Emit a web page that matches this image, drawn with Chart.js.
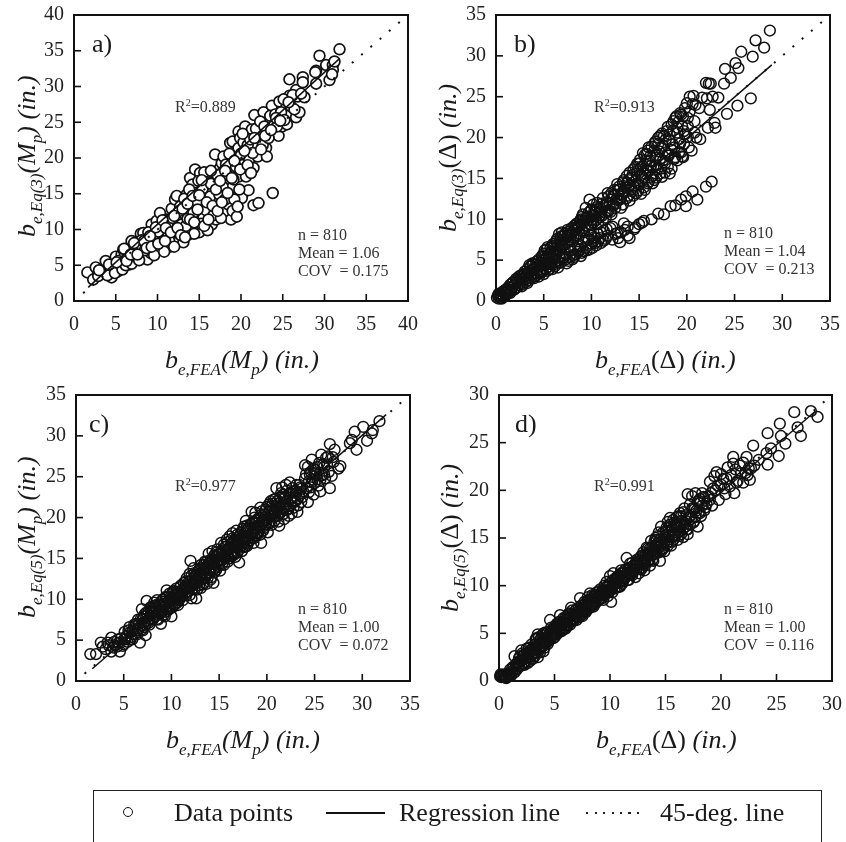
<!DOCTYPE html>
<html>
<head>
<meta charset="utf-8">
<script src="https://cdn.jsdelivr.net/npm/chart.js@4"></script>
<style>
html, body { margin: 0; padding: 0; background: #fff; overflow: hidden; }
#page { position: relative; width: 846px; height: 842px; overflow: hidden; font-family: "Liberation Serif", serif; color: #1a1a1a; filter: blur(0.4px); }
canvas { position: absolute; }
.txt { position: absolute; white-space: nowrap; line-height: 1; }
.sub { font-size: 17px; position: relative; top: 7px; font-style: italic; }
.note { font-size: 16px; color: #333; line-height: 18px; }
sup { font-size: 10px; line-height: 0; }
</style>
</head>
<body>
<div id="page">
  <canvas id="chart-a" width="423" height="380" style="left:0;top:0"></canvas>
  <canvas id="chart-b" width="423" height="380" style="left:423px;top:0"></canvas>
  <canvas id="chart-c" width="423" height="380" style="left:0;top:380px"></canvas>
  <canvas id="chart-d" width="423" height="380" style="left:423px;top:380px"></canvas>
</div>
<script>
// points, [FEA, Eq]
var pointsA = [[1.6,4],[2.6,4.7],[2.3,3],[3.8,5.6],[3.3,3.8],[3.6,4.2],[4.5,3.3],[4.4,4.6],[4.8,4.8],[5,6.2],[5.2,4.1],[5.5,5],[5.7,6.5],[5.9,7.2],[6.1,6.3],[6.4,6.6],[6.6,5.1],[6.7,7.6],[6.9,8.4],[7.1,5.8],[7.3,7],[7.5,8.3],[7.7,7.4],[8,9.4],[8.2,7.6],[8.3,9.5],[8.6,6.2],[8.8,5.8],[9,8.2],[9.2,6.7],[9.3,10.7],[9.5,9.5],[9.7,7.5],[9.9,11.2],[10,8.6],[10.2,7.2],[10.3,12.3],[10.5,10.4],[10.7,7.8],[10.9,9.2],[11.1,11.4],[11.3,9.1],[11.5,7.6],[11.7,12.9],[11.9,10.3],[12.1,14.2],[12.3,14.7],[12.3,8.5],[12.5,11.5],[12.7,13.2],[12.9,10.7],[13.1,8.2],[13.3,12.1],[13.5,14.9],[13.7,9.3],[13.9,17.2],[14,10.2],[14.1,13.5],[14.2,16.3],[14.5,18.4],[14.6,15.1],[14.8,11.2],[15,9.6],[15.1,17.9],[15.3,13],[15.5,11.6],[15.7,14.4],[15.9,16.7],[16.1,17.9],[16.2,12.4],[16.5,10.7],[16.6,15.2],[16.9,14.2],[16.9,20.5],[17,11.4],[17.3,16.3],[17.5,18.6],[17.7,19.3],[17.9,20.2],[18,12.4],[18.3,16.7],[18.3,12.6],[18.5,13.5],[18.7,18.4],[18.7,22.1],[18.8,11.4],[18.9,15.8],[19,22.3],[19,12.6],[19.3,20.8],[19.5,11.8],[19.5,20.2],[19.7,17.4],[19.7,23.7],[19.7,21.4],[19.9,22.8],[20.1,14.4],[20.2,19],[20.5,24.4],[20.5,18.4],[20.9,15.5],[21,19.8],[21.3,24],[21.5,18.6],[21.5,13.4],[21.6,26],[21.7,21.6],[22,20.2],[22.1,13.7],[22.2,23],[22.5,23.3],[22.7,26.4],[23,21.4],[23.1,24.9],[23.1,20.2],[23.7,27.3],[23.8,15.1],[23.9,24.5],[24.5,23.1],[24.6,27.9],[24.9,24.4],[25.4,27],[25.5,24.7],[25.5,26.2],[25.8,31],[25.8,28.7],[26.6,29.5],[26.6,25.7],[26.8,28.6],[27,26.4],[27.4,31.3],[27.4,30.6],[27.6,28.5],[29,32.2],[29,30.4],[29.4,34.3],[30.2,33],[30.6,30.9],[31,33],[31,32.3],[31.8,35.2]];
var extraA = [[2.9,3.5],[4,3.6],[4.9,3.9],[5.3,5.6],[5.8,4.4],[6.2,5],[6.5,7.2],[6.9,5.2],[7.4,6.2],[7.8,5.7],[8.1,8.5],[8.5,7.1],[8.9,9.6],[9.4,8.1],[9.6,6.4],[10.1,9.7],[10.4,8.2],[10.8,6.9],[11.2,10.6],[11.4,8.4],[11.8,11.6],[12,7.6],[12.2,9.6],[12.6,12.6],[13,9.4],[13.2,14.3],[13.4,10.5],[13.6,11.5],[13.8,15.6],[14.3,12.3],[14.4,9.4],[14.7,13.9],[14.9,16.8],[15.2,10.8],[15.4,15.7],[15.6,18],[15.8,12.7],[16,9.9],[16.3,14.6],[16.4,16.4],[16.7,12],[17.1,13.2],[17.2,17.6],[17.4,14.9],[17.6,11.6],[17.8,16],[18.1,14.2],[18.2,19.1],[18.4,17.6],[18.6,20.6],[19.1,17],[19.2,14.2],[19.4,18.8],[19.8,15.6],[20,20.6],[20.3,22.2],[20.6,17.4],[20.8,21.8],[21.1,22.6],[21.4,20.7],[21.8,24.1],[22.3,25.1],[22.6,21.8],[22.8,24.4],[23.3,22.8],[23.5,25.9],[24.1,26.1],[24.3,24.4],[24.8,26.4],[25.1,28.2],[25.2,25.3],[26,27.2],[26.2,28.8],[26.4,26.8],[28.9,32],[30.9,31.7]];
var moreA = [[3,4.3],[4.2,5.1],[5.1,5.4],[6,7.3],[6.3,5.6],[6.8,6.5],[7.2,8.1],[7.6,6.5],[8.4,8.4],[8.7,7.4],[9.1,9.1],[9.3,7.6],[9.8,10.3],[10.1,8],[10.6,11.3],[10.9,8.4],[11,10.2],[11.6,9.6],[12,11.9],[12.4,10.2],[12.8,9.2],[13,12.9],[13.3,8.9],[13.6,13.6],[13.9,11.4],[14.2,14.7],[14.4,11],[14.8,12.8],[15,14.8],[15.3,16.9],[15.6,10.5],[15.9,13.8],[16.1,11.4],[16.4,18.2],[16.6,13.3],[17,15.6],[17.2,12.6],[17.5,16.8],[17.7,13.8],[18.1,18.2],[18.4,15.1],[18.9,17.2],[19.2,19.6],[19.6,13.2],[19.9,18.4],[20.2,23.4],[20.4,21],[20.8,19],[21.2,17.9],[21.6,22.8],[22.4,21.2],[22.9,23.1],[23.6,23.9],[24.2,25.6],[24.7,25.2],[25.7,27.8],[27.2,29],[31.2,33.5]];
var pointsB = [[0.1,0.4],[0.2,0.7],[0.3,0.3],[0.4,0.6],[0.5,0.9],[0.5,0.4],[0.6,0.7],[0.7,1.1],[0.8,0.5],[0.9,1],[1,1.4],[1,0.7],[1.1,1.2],[1.2,0.9],[1.3,1.7],[1.4,1.1],[1.5,2],[1.6,1.3],[1.7,1.7],[1.8,2.3],[1.9,1.4],[2,2.1],[2.1,2.7],[2.2,1.7],[2.3,2.4],[2.4,3],[2.5,1.9],[2.6,2.6],[2.7,3.2],[2.8,2.1],[2.9,2.9],[3,3.6],[3.1,2.3],[3.2,3.2],[3.3,3.9],[3.4,2.5],[3.5,3.5],[3.6,4.2],[3.7,2.8],[3.8,3.8],[3.9,4.5],[4,3],[4.1,4.1],[4.2,4.8],[4.3,3.2],[4.4,4.3],[4.5,5.1],[4.6,3.4],[4.7,4.7],[4.8,5.5],[4.9,3.6],[5,5],[5.1,6.2],[5.2,3.9],[5.3,5.4],[5.4,6.6],[5.5,4.2],[5.6,5.7],[5.7,6.5],[5.8,4.5],[5.9,6],[6,7],[6.1,4.5],[6.2,6.4],[6.3,7.3],[6.4,5],[6.5,6.8],[6.6,8.2],[6.7,5.3],[6.8,7.1],[6.9,8.4],[7,5.2],[7.1,7.5],[7.2,8],[7.3,5.7],[7.4,7.8],[7.5,8.7],[7.6,4.9],[7.7,8.1],[7.8,6.2],[7.9,8.9],[8,8.4],[8.1,5.6],[8.2,9.2],[8.3,6.5],[8.4,8.8],[8.5,9.5],[8.6,6],[8.7,9.1],[8.8,6.8],[8.9,10],[9,9.5],[9,5.9],[9.1,10.6],[9.2,7.2],[9.3,9.8],[9.4,11.4],[9.5,6.2],[9.6,10.3],[9.7,7.5],[9.8,12.4],[9.9,11],[10,7],[10.1,10],[10.2,11.8],[10.3,7.8],[10.4,10.8],[10.5,6.8],[10.6,11.5],[10.7,8.2],[10.9,10.5],[11,7.1],[11.1,11.9],[11.3,8.6],[11.5,7.6],[11.6,12.1],[11.7,13.2],[11.8,11],[12,8.9],[12.1,12.4],[12.2,7.5],[12.4,12.9],[12.5,11.4],[12.7,8.3],[12.8,13.6],[13,7.2],[13.1,12.5],[13.3,14.5],[13.4,9.5],[13.5,13.3],[13.7,12.6],[13.8,8],[13.9,14.8],[14,7.7],[14.2,13.7],[14.3,15.4],[14.5,14],[14.6,9],[14.8,15.9],[14.9,13.5],[15,9.4],[15.2,16.4],[15.3,14.8],[15.4,18.1],[15.5,9.8],[15.6,15.6],[15.7,17.2],[15.9,14.4],[16,18.8],[16.2,16.5],[16.3,10],[16.4,15.3],[16.6,19.3],[16.7,17.5],[16.8,15.1],[17,10.7],[17.1,18.3],[17.2,20.2],[17.3,16.2],[17.5,19],[17.6,10.6],[17.7,16.8],[17.9,20.8],[18,18],[18.2,15.6],[18.3,11.6],[18.4,21.6],[18.5,19.2],[18.7,17.4],[18.8,11.7],[18.9,22.6],[19,20.6],[19.2,18.2],[19.3,23],[19.4,12.4],[19.5,21.4],[19.6,17.6],[19.7,19.2],[19.9,11.6],[19.9,12.8],[20,24.2],[20.1,22.4],[20.2,18.8],[20.3,25],[20.6,13.4],[20.7,25.1],[20.8,22],[20.9,24],[21,20],[21.1,12.4],[21.3,23.6],[21.4,19.8],[21.6,24.9],[22,26.7],[22,14],[22.1,24.8],[22.2,21.2],[22.3,26.6],[22.4,23.4],[22.5,26.6],[22.6,14.6],[22.7,25],[22.9,21.8],[23,21.2],[23.3,24.9],[23.9,26.6],[24,28.4],[24.2,22.9],[24.6,27.3],[25.1,29.1],[25.3,23.9],[25.4,28.5],[25.7,30.5],[26.7,24.8],[26.9,29.9],[27.2,31.9],[28.1,31],[28.7,33.1]];
var extraB = [[0.3,0.9],[0.6,0.3],[0.8,1.2],[1.1,0.8],[1.2,1.5],[1.5,1],[1.7,2.2],[2,1.5],[2.2,2.6],[2.5,2.2],[2.7,1.8],[2.9,3.3],[3.1,2.8],[3.3,2.2],[3.4,3.4],[3.6,3.1],[3.8,4.6],[4,2.8],[4,3.9],[4.2,3.4],[4.4,4.9],[4.5,3],[4.6,4.2],[4.8,3.9],[4.9,5.4],[5,3.3],[5.1,4.4],[5.2,4.7],[5.3,6.3],[5.4,3.7],[5.5,5],[5.6,4.6],[5.7,6],[5.8,5.2],[5.9,3.9],[6,5.6],[6.1,6.7],[6.2,4.3],[6.3,5.9],[6.4,7.6],[6.5,4.1],[6.6,6.3],[6.7,7.4],[6.8,4.7],[6.9,6.6],[7,7.9],[7.1,5.3],[7.2,6.9],[7.3,8.3],[7.4,4.6],[7.5,7.2],[7.6,8.5],[7.7,5.4],[7.8,7.5],[7.9,8.1],[8,5.1],[8.1,7.8],[8.2,8.6],[8.3,5.7],[8.4,8],[8.5,9.1],[8.6,6.7],[8.7,8.3],[8.8,9.8],[8.9,5.5],[9,8.6],[9.1,9.9],[9.2,6.1],[9.3,8.9],[9.4,10.1],[9.5,7.8],[9.6,9.2],[9.7,10.8],[9.8,6.3],[9.9,9.4],[10,11.2],[10,8],[10.1,6.5],[10.2,9.6],[10.3,11],[10.4,7.1],[10.5,9.9],[10.6,12],[10.7,7.3],[10.8,10.2],[10.9,11.4],[11,8.4],[11.1,10.4],[11.2,12.6],[11.3,7.4],[11.4,10.8],[11.5,11.8],[11.6,8.8],[11.7,11.1],[11.8,12.8],[12,10.9],[12.1,13.2],[12.2,9.1],[12.3,11.7],[12.4,13.6],[12.6,12],[12.7,14.3],[12.8,7.7],[12.9,12.4],[13,13.7],[13.1,8.4],[13.2,13],[13.3,11.8],[13.4,14.8],[13.6,13.9],[13.7,15.3],[13.8,9.1],[13.9,12.9],[14,15.7],[14.1,14.2],[14.3,13.4],[14.4,16.1],[14.5,8.8],[14.6,14.7],[14.7,13.2],[14.8,16.8],[15,14.2],[15.1,17.3],[15.2,15.4],[15.3,9.6],[15.4,16.5],[15.5,13.9],[15.6,17.9],[15.8,16],[15.9,18.4],[16,14.6],[16.1,17.1],[16.2,15.1],[16.3,18.9],[16.5,16.4],[16.6,14.8],[16.7,19.5],[16.8,17.8],[16.9,16.1],[17,20],[17.2,15.6],[17.3,18.7],[17.4,20.5],[17.5,17.2],[17.7,15.7],[17.8,19.8],[18,21.3],[18.1,17.8],[18.2,19.6],[18.4,16.2],[18.6,20.9],[18.7,18.8],[18.8,22.4],[19,17.2],[19.1,21.9],[19.3,19.3],[19.4,22.8],[19.5,17.7],[19.7,20.8],[19.8,23.6],[20.1,20.1],[20.3,23.2],[20.5,18.4],[20.6,24.1],[20.8,20.6]];
var moreB = [[2.6,3.1],[3,2.6],[3.5,4.4],[3.9,3.3],[4.3,4.5],[4.7,3.6],[5,5.8],[5.3,4.5],[5.6,3.9],[5.9,6.8],[6.1,5.1],[6.4,6.1],[6.6,4.7],[6.8,7.9],[7,6.7],[7.3,5.1],[7.5,8.1],[7.7,6.6],[8,7.3],[8.2,5.4],[8.4,9.4],[8.6,7.6],[8.8,6.3],[9,10.3],[9.2,8.4],[9.4,6.5],[9.6,9.9],[9.8,8.6],[10,9.3],[10.2,7.3],[10.3,10.4],[10.5,11.2],[10.7,9.4],[10.9,7.7],[11,11],[11.2,9.9],[11.3,11.6],[11.5,10.2],[11.7,8],[11.9,11.9],[12.1,10.6],[12.3,13],[12.5,8.2],[12.7,12.5],[12.9,14],[13.1,11.4],[13.3,13.4],[13.5,8.7],[13.7,14.4],[14,12.3],[14.2,15.1],[14.4,12.9],[14.6,16.4],[14.8,14.4],[15,16.8],[15.2,13.1],[15.4,15.1],[15.6,13.6],[15.8,18],[16,16],[16.2,17.8],[16.4,14.4],[16.6,18.4],[16.8,16.6],[17,19.2],[17.2,17.4],[17.4,15.2],[17.6,20.2],[17.8,18.2],[18,16.4],[18.2,20.4],[18.4,18.5],[18.6,22],[18.8,17.6],[19,21.2],[19.2,19.8],[19.4,18.2],[19.6,22.6],[19.8,20.4],[20.1,21.4]];
var pointsC = [[1.5,3.3],[2.1,3.3],[2.6,4.7],[2.8,4.2],[3.1,3.9],[3.4,4.4],[3.7,5.3],[3.7,3.6],[4,4.8],[4.3,4.2],[4.6,3.6],[4.7,5.2],[5,4.5],[5.1,6],[5.3,5.5],[5.4,4.8],[5.6,6.6],[5.8,5.4],[6,6.3],[6.1,5.7],[6.3,7],[6.4,6.2],[6.5,7.5],[6.7,4.7],[6.8,6.8],[6.9,8.8],[7,7.6],[7.1,6.6],[7.2,8.2],[7.3,5.6],[7.4,9.8],[7.5,7.4],[7.6,8.5],[7.7,6.9],[7.8,8],[7.9,9],[8,7.5],[8.1,8.7],[8.2,9.6],[8.3,7.9],[8.4,8.9],[8.5,9.9],[8.6,7.5],[8.7,8.4],[8.8,9.3],[8.9,7],[9,8.7],[9.1,10],[9.2,8.1],[9.3,9.2],[9.4,10.3],[9.5,11.1],[9.6,8.6],[9.7,9.7],[9.8,10.7],[9.9,8.9],[10,7.9],[10.1,10.1],[10.2,11],[10.3,9.3],[10.4,10.5],[10.5,11.3],[10.6,9.6],[10.7,10.8],[10.8,9.9],[10.9,11.5],[11,10.3],[11.1,11.1],[11.2,9.9],[11.3,12],[11.4,10.7],[11.5,11.5],[11.6,12.6],[11.7,10.9],[11.8,12.1],[11.9,13.1],[12,14.7],[12.1,10.1],[12.1,11.6],[12.2,12.5],[12.3,13.8],[12.4,11.2],[12.5,12.9],[12.6,10.1],[12.7,12.1],[12.8,13.4],[12.9,11.7],[13,13],[13.1,14.2],[13.2,12.4],[13.3,13.6],[13.4,12],[13.5,14.6],[13.6,13.1],[13.7,11.9],[13.8,14.1],[13.9,15.6],[14,13.3],[14.1,14.8],[14.2,12.7],[14.3,15.9],[14.4,12],[14.5,14.3],[14.6,15.2],[14.7,13.6],[14.8,16.1],[14.9,14.6],[15,15.4],[15.1,13.5],[15.2,16.9],[15.3,14.8],[15.4,15.9],[15.5,14.2],[15.6,16.4],[15.7,15.1],[15.8,17.3],[15.9,14.6],[16,16.1],[16.1,17.7],[16.2,15.4],[16.3,16.7],[16.4,18.1],[16.5,15.8],[16.6,17.2],[16.7,15.2],[16.8,18.4],[16.9,16.3],[17,17.6],[17.1,14.5],[17.2,16.8],[17.3,18.2],[17.4,15.9],[17.5,17.3],[17.6,18.9],[17.7,16.4],[17.8,19.6],[17.9,17.7],[18,16.8],[18.1,18.8],[18.2,17.2],[18.4,20.7],[18.5,18.2],[18.6,16.9],[18.7,19.3],[18.8,20.6],[18.9,17.8],[19,19],[19.1,18.1],[19.2,20],[19.3,21.2],[19.4,16.9],[19.5,19.5],[19.6,18.4],[19.7,20.4],[19.8,19],[19.9,21],[20,19.7],[20.1,18.2],[20.2,21.6],[20.3,20.1],[20.4,22],[20.5,19.1],[20.6,20.9],[20.7,22.2],[20.8,19.6],[20.9,21.3],[21,23.6],[21.1,20.2],[21.2,21.7],[21.3,19],[21.4,22.5],[21.5,20.7],[21.6,23.7],[21.7,21.2],[21.8,19.8],[21.9,22.4],[22,24],[22.1,20.9],[22.3,22.9],[22.4,24.3],[22.5,21.5],[22.6,20.5],[22.8,23.2],[23,22],[23.1,24],[23.2,20.7],[23.4,22.9],[23.6,23.5],[24,26.4],[24,24.8],[24.3,26.2],[24.3,21.9],[24.5,25.3],[24.6,23.7],[24.7,27.1],[24.8,24.6],[24.9,22.8],[25.1,25.8],[25.3,24.7],[25.5,26.7],[25.6,23.2],[25.7,27.7],[25.8,25.2],[26,26.2],[26.2,27.3],[26.5,25.6],[26.6,29],[26.6,23.6],[26.8,25.1],[27.1,28.3],[27,26.8],[27.5,26],[27.7,26.3],[28.7,29.1],[28.9,29.5],[29.2,30.5],[29.4,28.3],[30.1,31.1],[30.5,29.4],[31,30.3],[31.1,30.7],[31.8,31.8]];
var extraC = [[3.3,4.7],[3.9,4.1],[4.4,5.1],[4.9,4.3],[5.2,5.1],[5.5,6.2],[5.7,5.1],[5.9,6.1],[6.2,6.7],[6.6,6.4],[6.8,7.6],[7,6.2],[7.2,7.2],[7.4,8.4],[7.6,7.1],[7.8,9],[8,8.4],[8.1,7.6],[8.3,9.2],[8.5,8.1],[8.6,9.4],[8.8,8.2],[9,9.7],[9.2,9.4],[9.4,8.5],[9.5,9.6],[9.7,8.8],[9.9,10.3],[10,9.5],[10.1,10.8],[10.3,10.2],[10.4,9.4],[10.6,10.9],[10.8,10.6],[10.9,10.1],[11,11.7],[11.2,11],[11.4,11.5],[11.5,10.5],[11.7,11.7],[11.8,11],[12,12.2],[12.2,11.3],[12.3,12.1],[12.4,13.2],[12.6,12.4],[12.7,11.2],[12.9,12.6],[13,13.8],[13.1,11.4],[13.2,13.1],[13.4,14.2],[13.5,12.7],[13.6,14],[13.7,13],[13.8,12.6],[14,14.5],[14.1,13.5],[14.2,14.9],[14.4,13.7],[14.5,15.4],[14.6,13.8],[14.7,14.6],[14.9,15.5],[15,14.3],[15.1,15.7],[15.3,14.3],[15.4,15.2],[15.5,16.7],[15.6,15.2],[15.8,15.9],[15.9,17],[16,15],[16.1,16.4],[16.3,15.3],[16.4,17],[16.5,16.4],[16.6,15.6],[16.8,17.1],[16.9,15.7],[17,16.6],[17.2,17.9],[17.3,16.5],[17.4,17.5],[17.5,18.6],[17.6,16.9],[17.8,17.6],[17.9,16.5],[18,18.6],[18.1,17.5],[18.3,19.2],[18.4,17.9],[18.5,19.4],[18.7,17.5],[18.8,18.7],[18.9,19.7],[19,18.2],[19.2,19],[19.3,17.9],[19.4,20.3],[19.6,19.5],[19.7,18.7],[19.9,20.1],[20,21.3],[20.2,19.4],[20.3,20.8],[20.5,20.3],[20.6,21.7],[20.8,20.6],[20.9,22.3],[21.1,21.1],[21.2,19.5],[21.4,21.4],[21.5,23],[21.7,20.4],[21.8,22.5],[22,21.6],[22.1,23.3],[22.3,21.1],[22.5,23],[22.6,22],[22.8,21.2],[23,23.3],[23.2,22.3],[23.4,24],[23.6,21.9],[23.8,23.2],[24.2,23.6],[24.4,24.4],[24.6,25.6],[24.9,26],[25,24.2],[25.2,25.2],[25.4,23.9],[25.9,26.5],[26.1,24.8],[26.4,27.5],[26.9,27.4]];
var moreC = [[4.1,4.4],[4.5,4.7],[5.1,5.2],[5.6,5.9],[5.9,5.1],[6.1,6.9],[6.4,5.7],[6.6,7],[6.9,6.3],[7.1,7.9],[7.3,6.9],[7.5,8.1],[7.7,7.6],[7.9,8.4],[8.1,9.2],[8.3,8.5],[8.5,7.6],[8.7,9.2],[8.9,8.7],[9.1,9],[9.3,7.9],[9.5,10.2],[9.7,9.2],[9.9,9.8],[10.1,9],[10.3,11],[10.5,10],[10.7,9.3],[10.9,10.8],[11.1,10.5],[11.3,11.3],[11.5,12.2],[11.7,11.4],[11.9,10.5],[12.1,12.9],[12.3,11.8],[12.5,12.3],[12.7,13],[12.9,13.6],[13.1,12.8],[13.3,11.8],[13.5,13.7],[13.7,14.6],[13.9,13.3],[14.1,12.4],[14.3,14.6],[14.5,13.3],[14.7,15.7],[14.9,14.1],[15.1,14.9],[15.3,15.7],[15.5,15.4],[15.7,16.4],[15.9,15.5],[16.1,15],[16.3,17.4],[16.5,15.4],[16.7,16.6],[16.9,17.9],[17.1,16.1],[17.3,17.4],[17.5,16.4],[17.7,18.1],[17.9,19],[18.1,17.1],[18.3,18],[18.5,17.5],[18.7,20],[18.9,18.6],[19.1,19.6],[19.3,18.8],[19.5,20.8],[19.7,19.6],[19.9,19.2],[20.1,20.4],[20.3,19.3],[20.5,21.4],[20.7,20.3],[20.9,20.7],[21.1,22],[21.3,20.5],[21.5,21.9],[21.7,22.8],[21.9,21.2],[22.1,22],[22.3,20.2],[22.5,22.4],[22.7,23.6],[22.9,22.1],[23.1,23],[23.3,21.5],[23.5,23.7],[23.7,22.5],[24.1,25.3],[24.4,23.1],[24.7,24.3],[25,25.4],[25.3,26.2],[25.6,24.6],[26,25.3],[26.3,26.5]];
var pointsD = [[0.1,0.5],[0.15,0.7],[0.2,0.4],[0.3,0.6],[0.4,0.5],[0.5,0.4],[0.6,0.5],[0.7,0.4],[0.8,0.6],[0.9,0.5],[1,0.7],[1,1.2],[1.1,0.6],[1.2,1],[1.3,1.5],[1.4,2.6],[1.4,0.9],[1.5,1.7],[1.6,1.2],[1.7,2],[1.8,1.5],[1.9,2.6],[2,1.6],[2,3.2],[2.1,2.2],[2.2,1.8],[2.3,2.8],[2.4,2],[2.5,3.4],[2.6,2.4],[2.7,3],[2.8,2.1],[2.9,3.8],[3,2.8],[3.1,3.3],[3.2,2.6],[3.3,4.4],[3.4,3.6],[3.5,2.5],[3.5,4.9],[3.6,3.9],[3.7,3],[3.8,4.5],[3.9,3.6],[4,3.1],[4,5],[4.1,4.2],[4.2,4],[4.3,5],[4.4,4.4],[4.5,4.8],[4.6,6.4],[4.7,4.5],[4.8,5.4],[4.9,4.9],[5,5.7],[5.1,5],[5.2,6],[5.3,5.3],[5.4,5.7],[5.5,6.9],[5.6,5.6],[5.7,6.2],[5.8,5.4],[5.9,6.5],[6,5.9],[6.1,6.4],[6.2,5.8],[6.3,7.1],[6.4,6.2],[6.5,7.7],[6.6,6.4],[6.7,7],[6.8,6.4],[6.9,7.4],[7,6.8],[7.1,7.2],[7.2,6.7],[7.3,8.7],[7.4,7.3],[7.5,6.8],[7.6,7.9],[7.7,7.3],[7.8,8.2],[7.9,7.4],[8,8.8],[8.1,7.9],[8.2,9.2],[8.3,8],[8.4,8.6],[8.5,7.8],[8.6,9],[8.7,8.2],[8.8,9.3],[8.9,8.4],[9,8.9],[9.1,9.6],[9.2,8.7],[9.3,9.2],[9.4,8.5],[9.5,10],[9.6,9.2],[9.7,10.4],[9.8,9.3],[9.9,9.9],[10,11],[10.1,8.3],[10.2,9.8],[10.3,11.3],[10.4,10.1],[10.5,10.6],[10.6,9.8],[10.7,11],[10.8,10.3],[10.9,9.9],[11,10.8],[11.1,10.2],[11.2,11.4],[11.3,10.8],[11.4,11.7],[11.5,12.9],[11.6,11.1],[11.7,10.6],[11.8,11.9],[11.9,11.2],[12,12.4],[12.1,11.5],[12.2,12],[12.3,10.9],[12.4,12.7],[12.5,12],[12.6,11.3],[12.7,12.4],[12.8,13.1],[12.9,11.9],[13,12.6],[13.1,11.6],[13.2,13.3],[13.3,14],[13.4,12.6],[13.5,13.5],[13.6,12.1],[13.7,14.7],[13.8,13.2],[13.9,12.6],[14,13.8],[14.1,15],[14.2,13.4],[14.3,14.4],[14.4,15.6],[14.5,12.6],[14.6,16.2],[14.7,13.9],[14.8,14.9],[14.9,13.6],[15,15.7],[15.1,14.4],[15.2,16.7],[15.3,15.2],[15.4,17.1],[15.5,14.2],[15.6,15.9],[15.7,14.8],[15.8,16.6],[15.9,15.3],[16,17.2],[16.1,14.8],[16.2,16.1],[16.3,17.6],[16.4,15.4],[16.5,16.8],[16.6,15.1],[16.7,18.1],[16.8,16.2],[16.9,17.4],[17,19.6],[17,15.9],[17.2,18.5],[17.3,17],[17.4,19.4],[17.5,16.6],[17.6,18],[17.7,19.7],[17.9,16.2],[18,17.7],[18.1,19.1],[18.3,19.7],[18.5,17.9],[18.7,18.6],[19,20.9],[19,19],[19.2,18.4],[19.4,21.5],[19.5,20],[19.6,21.9],[19.8,19],[20,20.6],[20.2,21.2],[20.4,19.6],[20.6,22.4],[20.8,20.4],[21.1,23.5],[21.2,19.7],[21.3,22.2],[21.5,21],[21.8,21.8],[22,20.8],[22.3,23.5],[22.4,21.6],[22.6,21.1],[22.7,22.3],[22.9,24.7],[23,22.6],[23.4,23.2],[24.1,23.9],[24.2,26],[24.2,22.7],[24.5,24.4],[25.2,23.6],[25.3,27],[25.4,25.7],[25.8,24.9],[26.6,28.2],[26.9,26.6],[27.2,25.7],[28.1,28.3],[28.7,27.7]];
var extraD = [[0.25,0.5],[0.45,0.7],[0.65,0.3],[0.85,0.8],[1.2,1.4],[1.5,1.2],[1.7,1.5],[1.8,2.4],[2,2.2],[2.2,2.7],[2.3,1.7],[2.5,2.8],[2.6,1.9],[2.7,3.5],[2.9,2.6],[3,3.4],[3.1,2.4],[3.2,3.8],[3.3,3],[3.4,4.5],[3.6,3.2],[3.7,4.3],[3.8,3.7],[3.9,4.8],[4.1,3.5],[4.2,4.5],[4.3,4.1],[4.4,5.1],[4.5,4.2],[4.6,5.1],[4.7,5.6],[4.9,4.5],[5,5.2],[5.1,5.7],[5.2,4.9],[5.3,5.9],[5.4,5.2],[5.5,6.1],[5.6,5.9],[5.8,6],[5.9,5.6],[6,6.7],[6.1,5.8],[6.2,6.5],[6.3,6.2],[6.4,7],[6.6,6.9],[6.7,6.3],[6.9,6.8],[7,7.5],[7.1,6.7],[7.2,7.7],[7.4,7.9],[7.5,7.4],[7.7,8.3],[7.8,7.6],[7.9,8],[8,7.7],[8.1,8.5],[8.3,8.6],[8.4,8],[8.6,8.4],[8.7,8.9],[8.9,9],[9,8.5],[9.1,9.1],[9.3,8.7],[9.4,9.5],[9.5,9],[9.7,9.5],[9.8,10],[9.9,9.3],[10,10.2],[10.1,9.7],[10.2,10.5],[10.4,9.7],[10.5,10.2],[10.6,10.8],[10.8,10.9],[10.9,10.5],[11,11.3],[11.1,10.6],[11.3,11.4],[11.4,10.9],[11.6,11.6],[11.7,11.4],[11.8,11.2],[12,11.6],[12.1,12.1],[12.3,12.3],[12.4,11.7],[12.5,12.5],[12.7,11.8],[12.8,12.3],[12.9,12.9],[13,13.2],[13.1,12.4],[13.2,12.7],[13.4,13.3],[13.5,12.6],[13.6,13.9],[13.8,14],[13.9,13.3],[14,14.6],[14.1,13.6],[14.2,14.2],[14.3,15.2],[14.4,14],[14.5,14.8],[14.6,13.6],[14.8,15.6],[14.9,14.6],[15,15],[15.1,16.1],[15.2,14.8],[15.3,15.8],[15.5,16.2],[15.6,15.1],[15.7,16.9],[15.8,15.8],[15.9,16.4],[16.1,16.1],[16.2,17.3],[16.3,15.7],[16.4,16.5],[16.6,17.7],[16.7,16.6],[16.9,15.9],[17.1,17.1],[17.2,16.4],[17.5,18.1],[17.7,17.2],[17.9,18.8],[18.1,17.6],[18.3,18.4],[18.5,19.2],[18.9,19.4],[19.1,19.7],[19.3,20.2],[19.7,20.5],[20,21.7],[20.3,20.2],[20.5,21.2],[20.9,21.6],[21.1,22.8],[21.4,20.8],[21.7,22.6],[22,22.9],[22.2,21.8],[22.5,22.3]];
var moreD = [[1.6,1.8],[2.1,2.9],[2.4,2.4],[2.8,3.2],[3,2.3],[3.2,3.2],[3.5,3.4],[3.6,4.6],[3.9,4.2],[4,3.7],[4.2,5.1],[4.4,3.9],[4.6,4.6],[4.8,4.9],[5,4.6],[5.2,5.5],[5.4,6.2],[5.6,5.2],[5.8,6.6],[6,5.5],[6.2,6.9],[6.4,5.9],[6.6,7.4],[6.8,6.9],[7,6.4],[7.2,7.3],[7.4,6.9],[7.6,7.4],[7.8,7.2],[8,8.3],[8.2,7.7],[8.4,9],[8.6,8],[8.8,8.7],[9,9.4],[9.2,9.3],[9.4,9],[9.6,9.8],[9.8,8.9],[10,9.7],[10.2,9.3],[10.4,10.7],[10.6,10.3],[10.8,9.9],[11,11.6],[11.2,10.5],[11.4,11.2],[11.6,10.6],[11.8,12.3],[12,11.1],[12.2,11.6],[12.4,12.2],[12.6,12.8],[12.8,11.7],[13,13.5],[13.2,12.2],[13.4,13.9],[13.6,13.4],[13.8,12.7],[14,14.2],[14.2,14.8],[14.4,13.5],[14.6,14.3],[14.8,13.9],[15,15.3],[15.2,14.2],[15.4,16.4],[15.6,14.6],[15.8,15.3],[16,16.6],[16.2,15.2],[16.4,17.3],[16.6,16],[16.8,16.8],[17,15.4],[17.2,17.3],[17.4,18.1],[17.6,16.8],[17.8,17.9],[18,18.9],[18.2,17.3],[18.4,19.3],[18.6,18.2]];

// regression line ends and 45-deg line ends
var regressionA = [[1.7,1.9],[31.8,33.9]];
var regressionB = [[0.3,0],[28.9,28.9]];
var regressionC = [[1.7,1.5],[32.5,32.6]];
var regressionD = [[0.3,0],[28.5,28.3]];
var diagonalA = [[1.1,1.1],[39.3,39.3]];
var diagonalB = [[0,0],[34.3,34.3]];
var diagonalC = [[0.9,0.9],[34.2,34.2]];
var diagonalD = [[0,0],[29.6,29.6]];

var tickSize = 7;

// box round the plot and the inward tick marks
var frame = {
    id: 'frame',
    afterDatasetsDraw: function(chart) {
        var a = chart.chartArea, c = chart.ctx;
        c.save();
        c.strokeStyle = '#111';
        c.lineWidth = 1.6;
        chart.scales.x.ticks.forEach(function(t) {
            var px = chart.scales.x.getPixelForValue(t.value);
            c.beginPath(); c.moveTo(px, a.bottom); c.lineTo(px, a.bottom - tickSize); c.stroke();
        });
        chart.scales.y.ticks.forEach(function(t) {
            var py = chart.scales.y.getPixelForValue(t.value);
            c.beginPath(); c.moveTo(a.left, py); c.lineTo(a.left + tickSize, py); c.stroke();
        });
        c.lineWidth = 2;
        c.strokeRect(a.left, a.top, a.right - a.left, a.bottom - a.top);
        c.restore();
    }
};

function toXY(list) {
    return list.map(function(p) { return {x: p[0], y: p[1]}; });
}

function axis(max, pos, padding, fit) {
    return {
        type: 'linear', position: pos, min: 0, max: max,
        border: {display: false},
        grid: {display: false, drawTicks: false},
        ticks: {stepSize: 5, autoSkip: false, maxRotation: 0, padding: padding, color: '#222',
                font: {family: '"Liberation Serif"', size: 20}},
        afterFit: function(s) {
            // labels may hang over the plot edge, the plot rectangle stays fixed
            s.paddingLeft = s.paddingRight = s.paddingTop = s.paddingBottom = 0;
            fit(s);
        }
    };
}

function panel(id, max, pts, reg, diag, box, fill) {
    new Chart(document.getElementById(id), {
        type: 'scatter',
        data: {
            datasets: [{
                data: toXY(pts),
                pointRadius: 5.4,
                borderWidth: fill == '#fff' ? 1.7 : 1.5,
                borderColor: '#111',
                backgroundColor: fill,
                clip: false,
                order: 2
            }, {
                data: toXY(reg),
                showLine: true,
                pointRadius: 0,
                borderWidth: 1.5,
                borderColor: '#111',
                order: 1
            }, {
                data: toXY(diag),
                showLine: true,
                pointRadius: 0,
                borderWidth: 2,
                borderColor: '#111',
                borderDash: [2, 10.2],
                order: 1
            }]
        },
        options: {
            responsive: false,
            animation: false,
            layout: {padding: {top: box.top, right: 423 - box.right, left: 0, bottom: 0}},
            plugins: {legend: {display: false}, tooltip: {enabled: false}},
            scales: {
                x: axis(max, 'bottom', 12, function(s) { s.height = 380 - box.bottom; }),
                y: axis(max, 'left', 10, function(s) { s.width = box.left; })
            }
        },
        plugins: [frame]
    });
}

panel('chart-a', 40, pointsA.concat(extraA, moreA), regressionA, diagonalA, {left: 74, right: 408, top: 15, bottom: 301}, '#fff');
panel('chart-b', 35, pointsB.concat(extraB, moreB), regressionB, diagonalB, {left: 73, right: 407, top: 15, bottom: 301}, 'transparent');
panel('chart-c', 35, pointsC.concat(extraC, moreC), regressionC, diagonalC, {left: 76, right: 410, top: 15, bottom: 301}, 'transparent');
panel('chart-d', 30, pointsD.concat(extraD, moreD), regressionD, diagonalD, {left: 76, right: 409, top: 15, bottom: 301}, 'transparent');

// text on top of the charts
var page = document.getElementById('page');
function addText(x, y, html, cls, size, rotate) {
    var d = document.createElement('div');
    d.className = 'txt ' + (cls || '');
    d.style.left = x + 'px';
    d.style.top = y + 'px';
    if (size) d.style.fontSize = size + 'px';
    if (rotate) { d.style.transformOrigin = 'left top'; d.style.transform = 'rotate(-90deg)'; }
    d.innerHTML = html;
    page.appendChild(d);
}
function label(sub, inner) {
    return '<i>b</i><span class="sub">e,' + sub + '</span>' + inner + ' <i>(in.)</i>';
}
var mp = '<i>(M<span class="sub">p</span>)</i>';
var delta = '(Δ)';

addText(165, 347, label('FEA', mp), '', 26);
addText(595, 347, label('FEA', delta), '', 26);
addText(166, 727, label('FEA', mp), '', 26);
addText(596, 727, label('FEA', delta), '', 26);
addText(14, 237, label('Eq(3)', mp), '', 26, true);
addText(435, 232, label('Eq(3)', delta), '', 26, true);
addText(14, 618, label('Eq(5)', mp), '', 26, true);
addText(437, 612, label('Eq(5)', delta), '', 26, true);

addText(92, 31, 'a)', '', 26);
addText(514, 31, 'b)', '', 26);
addText(89, 411, 'c)', '', 26);
addText(515, 411, 'd)', '', 26);

addText(175, 98, 'R<sup>2</sup>=0.889', 'note');
addText(594, 98, 'R<sup>2</sup>=0.913', 'note');
addText(175, 477, 'R<sup>2</sup>=0.977', 'note');
addText(594, 477, 'R<sup>2</sup>=0.991', 'note');

addText(298, 226, 'n = 810<br>Mean = 1.06<br>COV &nbsp;= 0.175', 'note');
addText(724, 224, 'n = 810<br>Mean = 1.04<br>COV &nbsp;= 0.213', 'note');
addText(298, 600, 'n = 810<br>Mean = 1.00<br>COV &nbsp;= 0.072', 'note');
addText(724, 600, 'n = 810<br>Mean = 1.00<br>COV &nbsp;= 0.116', 'note');

// legend box runs off the bottom of the page
var box = document.createElement('div');
box.style.cssText = 'position:absolute;left:93px;top:790px;width:729px;height:80px;border:1.5px solid #222;box-sizing:border-box';
page.appendChild(box);
var dot = document.createElement('div');
dot.style.cssText = 'position:absolute;left:123px;top:807px;width:10px;height:10px;border:1.5px solid #111;border-radius:50%;box-sizing:border-box';
page.appendChild(dot);
var line = document.createElement('div');
line.style.cssText = 'position:absolute;left:326px;top:812px;width:59px;border-top:2px solid #111';
page.appendChild(line);
var dots = document.createElement('div');
dots.style.cssText = 'position:absolute;left:586px;top:812px;width:54px;height:2px;background:repeating-linear-gradient(90deg,#222 0 2px,transparent 2px 8.5px)';
page.appendChild(dots);
addText(174, 800, 'Data points', '', 26);
addText(399, 800, 'Regression line', '', 26);
addText(660, 800, '45-deg. line', '', 26);
</script>
</body>
</html>
